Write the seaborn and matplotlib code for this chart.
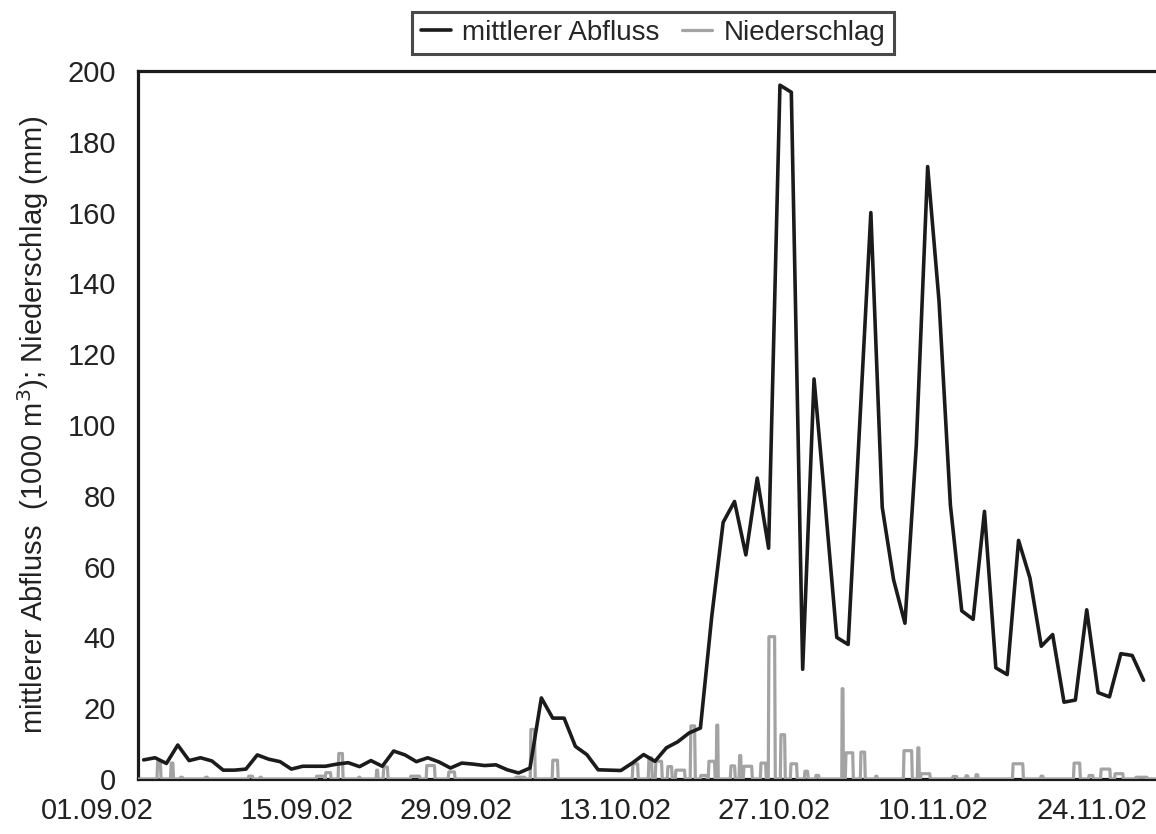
import numpy as np
import pandas as pd
import matplotlib
matplotlib.use("Agg")
import matplotlib.pyplot as plt
import matplotlib.transforms as mtransforms
import seaborn as sns

# ---------------- data ----------------
# mittlerer Abfluss (1000 m3), daily values starting 01.09.02 (day 0)
abfluss = [5.4, 6.0, 4.4, 9.6, 5.2, 6.0, 5.1, 2.5, 2.5, 2.8,
           6.8, 5.6, 4.9, 2.8, 3.6, 3.6, 3.6, 4.2, 4.6, 3.5,
           5.2, 3.6, 7.9, 6.8, 4.9, 6.0, 4.8, 3.1, 4.5, 4.2,
           3.8, 4.0, 2.6, 1.7, 3.1, 22.9, 17.2, 17.2, 9.2, 6.9,
           2.6, 2.5, 2.4, 4.5, 6.9, 5.0, 8.8, 10.5, 13.0, 14.4,
           46.0, 72.5, 78.4, 63.3, 85.0, 65.2, 196.0, 194.0, 31.0, 113.0,
           77.0, 40.0, 38.0, 99.0, 160.0, 76.8, 56.3, 44.0, 94.3, 173.0,
           135.0, 77.4, 47.5, 45.1, 75.6, 31.4, 29.5, 67.4, 56.8, 37.5,
           40.8, 21.7, 22.3, 47.8, 24.4, 23.2, 35.4, 34.9, 27.9]

# Niederschlag (mm): rain pulses, start / end in days after 01.09.02
regen_start = [1.67, 2.86, 3.70, 5.90, 9.69, 10.70, 15.67, 16.47, 17.61, 19.40,
               20.96, 21.57, 23.95, 25.36, 27.30, 33.20, 34.52, 36.45, 43.50, 44.91,
               45.52, 46.58, 47.28, 48.60, 49.48, 50.19, 50.89, 52.13, 52.90, 53.27,
               54.77, 55.47, 56.53, 57.41, 58.64, 59.61, 61.94, 62.25, 63.57, 64.90,
               67.36, 68.59, 68.86, 71.67, 72.82, 73.70, 76.96, 79.42, 82.33, 83.65,
               84.71, 85.94, 87.79]
regen_ende = [2.03, 3.13, 3.96, 6.16, 10.13, 10.90, 16.47, 17.00, 18.05, 19.55,
              21.13, 22.01, 24.83, 26.15, 27.91, 34.08, 34.96, 36.98, 44.03, 45.26,
              46.14, 47.02, 48.16, 49.05, 50.10, 50.80, 51.07, 52.57, 53.10, 54.07,
              55.30, 56.09, 56.97, 58.02, 58.99, 59.96, 62.08, 62.96, 64.01, 65.07,
              68.15, 68.77, 69.74, 72.11, 73.08, 73.96, 77.93, 79.69, 82.94, 84.09,
              85.59, 86.73, 88.84]
regen_mm = [4.9, 4.5, 0.5, 0.5, 0.8, 0.5, 0.8, 1.8, 7.2, 0.5,
            2.5, 3.4, 0.8, 3.8, 2.0, 0.5, 14.0, 5.3, 4.3, 6.0,
            5.0, 3.5, 2.5, 15.0, 1.0, 5.0, 15.2, 3.7, 6.6, 3.6,
            4.5, 40.2, 12.5, 4.3, 2.2, 1.0, 25.5, 7.4, 7.6, 0.8,
            8.0, 8.8, 1.5, 0.7, 0.9, 1.2, 4.3, 0.8, 4.5, 1.0,
            2.8, 1.5, 0.5]

tick_days = [0, 14, 28, 42, 56, 70, 84]
tick_labels = ["01.09.02", "15.09.02", "29.09.02", "13.10.02",
               "27.10.02", "10.11.02", "24.11.02"]
y_ticks = list(range(0, 201, 20))

# ---------------- build tables ----------------
df_abfluss = pd.DataFrame({"tag": np.arange(len(abfluss)) + 0.5,
                           "wert": abfluss})
t_pts, v_pts = [0.0], [0.0]
for s, e, v in zip(regen_start, regen_ende, regen_mm):
    ramp = min(0.06, (e - s) / 4)
    t_pts += [s, s + ramp, e - ramp, e]
    v_pts += [0.0, v, v, 0.0]
t_pts.append(89.7)
v_pts.append(0.0)
df_regen = pd.DataFrame({"tag": t_pts, "wert": v_pts})

# ---------------- plot ----------------
sns.set_theme(style="white")
plt.rcParams["font.family"] = ["Liberation Sans", "DejaVu Sans"]

fig = plt.figure(figsize=(11.56, 8.34), dpi=100)
ax = fig.add_axes([138 / 1156, 1 - 779 / 834, 1 - 138 / 1156 + 0.002, (779 - 71) / 834])

sns.lineplot(data=df_regen, x="tag", y="wert", ax=ax, color="#a3a3a3",
             linewidth=2.3, estimator=None, sort=False, zorder=2.6,
             label="Niederschlag")
sns.lineplot(data=df_abfluss, x="tag", y="wert", ax=ax, color="#1b1b1b",
             linewidth=2.6, estimator=None, sort=False, zorder=2.7,
             label="mittlerer Abfluss")

ax.set_xlim(0, 89.8)
ax.set_ylim(0, 200)
ax.set_xticks(tick_days)
ax.set_xticklabels(tick_labels)
ax.set_yticks(y_ticks)
ax.tick_params(axis="both", which="both", direction="out", length=5,
               width=1, color="#333333", labelsize=21, labelcolor="#222222")
ax.tick_params(axis="x", pad=8)
ax.tick_params(axis="y", pad=11)
# first date label sits left of its tick, as in the original
first = ax.get_xticklabels()[0]
first.set_transform(first.get_transform() +
                    mtransforms.ScaledTranslation(-0.41, 0, fig.dpi_scale_trans))
ax.set_xlabel("")
ax.set_ylabel("mittlerer Abfluss  (1000 m$^3$); Niederschlag (mm)",
              fontsize=21, color="#222222", labelpad=12)

for side in ["left", "top", "bottom"]:
    ax.spines[side].set_color("#1b1b1b")
    ax.spines[side].set_linewidth(2.3)
ax.spines["right"].set_visible(False)
ax.grid(False)

handles, labels = ax.get_legend_handles_labels()
order = [labels.index("mittlerer Abfluss"), labels.index("Niederschlag")]
ax.legend([handles[i] for i in order], [labels[i] for i in order],
          loc="center", bbox_to_anchor=(653 / 1156, 1 - 33 / 834),
          bbox_transform=fig.transFigure, ncol=2, frameon=True,
          fancybox=False, edgecolor="#1b1b1b", fontsize=20,
          handlelength=1.1, handletextpad=0.4, columnspacing=0.8,
          borderpad=0.3, borderaxespad=0)
leg = ax.get_legend()
leg.get_frame().set_linewidth(2.2)

fig.savefig("out.png", dpi=100, facecolor="white")
